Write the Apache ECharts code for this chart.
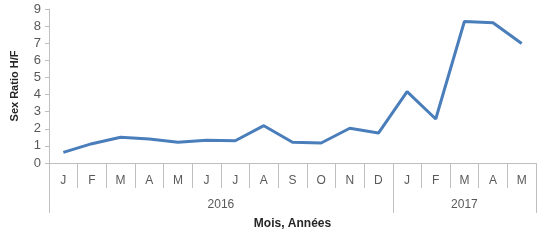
<!DOCTYPE html>
<html>
<head>
<meta charset="utf-8">
<script src="https://cdn.jsdelivr.net/npm/echarts@6/dist/echarts.min.js"></script>
<style>html,body{margin:0;padding:0;background:#fff}#c{width:550px;height:240px}</style>
</head>
<body>
<div id="c"></div>
<script>
const months = ['J','F','M','A','M','J','J','A','S','O','N','D','J','F','M','A','M'];
const years = ['2016','2017'];
const yearStarts = [0, 12, 17];
const sexRatio = [0.62, 1.13, 1.5, 1.4, 1.21, 1.33, 1.3, 2.18, 1.21, 1.17, 2.03, 1.75, 4.17, 2.57, 8.27, 8.2, 6.98];
const yTicks = [0,1,2,3,4,5,6,7,8,9];
const yTitle = 'Sex Ratio H/F';
const xTitle = 'Mois, Années';

const FONT = 'Liberation Sans';
const grey = '#bfbfbf';
const txt = '#595959';

const yearCenters = years.map((y, i) => (yearStarts[i] + yearStarts[i + 1]) / 2);

const chart = echarts.init(document.getElementById('c'), null, {renderer: 'canvas'});
chart.setOption({
  animation: false,
  grid: {left: 49, right: 14, top: 9, bottom: 77, containLabel: false},
  xAxis: [{
    type: 'category',
    data: months,
    boundaryGap: true,
    position: 'bottom',
    axisLine: {show: true, lineStyle: {color: grey, width: 1}},
    axisTick: {show: true, interval: 0, length: 25, lineStyle: {color: grey}},
    axisLabel: {interval: 0, margin: 12, color: txt, fontFamily: FONT, fontSize: 12},
    splitLine: {show: false}
  }, {
    type: 'value',
    min: 0, max: 17,
    position: 'bottom',
    offset: 25,
    axisLine: {show: false},
    axisTick: {show: true, length: 25, customValues: yearStarts, lineStyle: {color: grey}},
    axisLabel: {show: true, customValues: yearCenters, margin: 11, color: txt, fontFamily: FONT, fontSize: 12,
      formatter: function (v) { const i = yearCenters.indexOf(v); return i >= 0 ? years[i] : ''; }},
    splitLine: {show: false},
    name: xTitle,
    nameLocation: 'middle',
    nameGap: 30,
    nameTextStyle: {color: '#262626', fontFamily: FONT, fontSize: 12, fontWeight: 'bold'}
  }],
  yAxis: {
    type: 'value',
    min: 0, max: 9, interval: 1,
    axisLine: {show: true, lineStyle: {color: grey}},
    axisTick: {show: true, length: 4, lineStyle: {color: grey}},
    axisLabel: {color: txt, fontFamily: FONT, fontSize: 13, margin: 8,
      formatter: function (v) { return yTicks.indexOf(v) >= 0 ? String(v) : ''; }},
    splitLine: {show: false},
    name: yTitle,
    nameLocation: 'middle',
    nameGap: 29,
    nameTextStyle: {color: '#262626', fontFamily: FONT, fontSize: 11, fontWeight: 'bold'}
  },
  series: [{
    type: 'line',
    xAxisIndex: 0,
    data: sexRatio,
    showSymbol: false,
    symbol: 'none',
    lineStyle: {color: '#4a7ebb', width: 3},
    itemStyle: {color: '#4a7ebb'}
  }]
});
</script>
</body>
</html>
